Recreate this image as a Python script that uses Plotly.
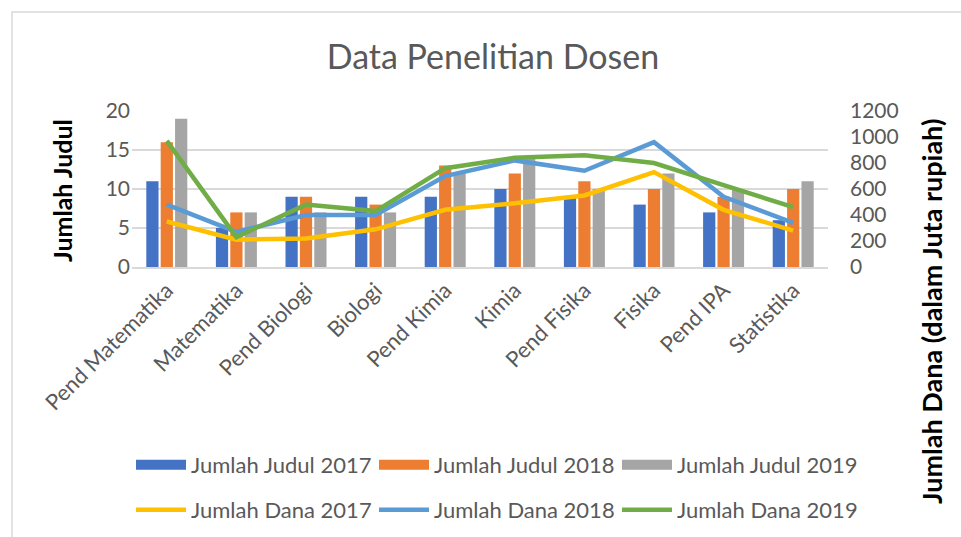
import plotly.graph_objects as go

# Study programmes (categories)
categories = ["Pend Matematika", "Matematika", "Pend Biologi", "Biologi", "Pend Kimia",
              "Kimia", "Pend Fisika", "Fisika", "Pend IPA", "Statistika"]

# Number of research titles per year
judul_2017 = [11, 5, 9, 9, 9, 10, 9, 8, 7, 6]
judul_2018 = [16, 7, 9, 8, 13, 12, 11, 10, 9, 10]
judul_2019 = [19, 7, 7, 7, 12, 14, 10, 12, 10, 11]

# Research funding per year (million rupiah)
dana_2017 = [350, 210, 220, 290, 440, 490, 550, 730, 440, 280]
dana_2018 = [480, 270, 400, 400, 700, 820, 740, 960, 540, 340]
dana_2019 = [970, 230, 480, 430, 760, 840, 860, 800, 630, 460]

left_ticks = [0, 5, 10, 15, 20]
right_ticks = [0, 200, 400, 600, 800, 1000, 1200]

FONT = "Lato"
GREY_TEXT = "#595959"

# plot area in pixels
PX_L, PX_R, PX_T, PX_B = 132, 828, 111, 267
PW, PH = PX_R - PX_L, PX_B - PX_T


def px_x(x):
    return (x - PX_L) / PW


def px_y(y):
    return (PX_B - y) / PH


fig = go.Figure()

bar_series = [
    ("Jumlah Judul 2017", judul_2017, "#4472C4"),
    ("Jumlah Judul 2018", judul_2018, "#ED7D31"),
    ("Jumlah Judul 2019", judul_2019, "#A5A5A5"),
]
for name, vals, color in bar_series:
    fig.add_trace(go.Bar(x=categories, y=vals, name=name, marker_color=color,
                         marker_line_width=0, legendgroup=name, showlegend=False))
    # wide rectangular swatch for the legend entry
    fig.add_trace(go.Scatter(x=[None], y=[None], name=name, mode="lines",
                             line=dict(color=color, width=13), legendgroup=name,
                             legend="legend", hoverinfo="skip"))

line_series = [
    ("Jumlah Dana 2017", dana_2017, "#FFC000"),
    ("Jumlah Dana 2018", dana_2018, "#5B9BD5"),
    ("Jumlah Dana 2019", dana_2019, "#70AD47"),
]
for name, vals, color in line_series:
    fig.add_trace(go.Scatter(x=categories, y=vals, name=name, mode="lines",
                             line=dict(color=color, width=4.5), yaxis="y2",
                             legend="legend2"))

legend_common = dict(
    orientation="h", x=px_x(131), xanchor="left", yanchor="middle",
    font=dict(family=FONT, size=22, color=GREY_TEXT),
    entrywidth=178, entrywidthmode="pixels", bgcolor="rgba(0,0,0,0)",
    itemwidth=50, tracegroupgap=0,
)

fig.update_layout(
    width=961, height=537,
    margin=dict(l=PX_L, r=961 - PX_R, t=PX_T, b=537 - PX_B, autoexpand=False),
    paper_bgcolor="white", plot_bgcolor="white",
    barmode="group", bargap=0.38, bargroupgap=0.15,
    title=dict(text="Data Penelitian Dosen", x=0.513, xanchor="center",
               y=1 - 57 / 537, yanchor="middle",
               font=dict(family=FONT, size=34, color=GREY_TEXT)),
    xaxis=dict(tickangle=-45, tickfont=dict(family=FONT, size=22, color=GREY_TEXT),
               showline=True, linecolor="#d9d9d9", linewidth=1.5,
               ticks="", showgrid=False, automargin=False),
    yaxis=dict(range=[0, 20], tickvals=left_ticks,
               tickfont=dict(family=FONT, size=21, color=GREY_TEXT),
               gridcolor="#d9d9d9", gridwidth=1.5, zeroline=False,
               showline=False, ticklabelstandoff=1, automargin=False),
    yaxis2=dict(range=[0, 1200], tickvals=right_ticks, overlaying="y", side="right",
                tickfont=dict(family=FONT, size=21, color=GREY_TEXT),
                showgrid=False, zeroline=False, showline=False,
                ticklabelstandoff=21, automargin=False),
    legend=dict(y=px_y(465), **legend_common),
    legend2=dict(y=px_y(510), **legend_common),
    showlegend=True,
)

# Axis titles
fig.add_annotation(text="<b>Jumlah Judul</b>", textangle=-90, xref="paper", yref="paper",
                   x=px_x(62), y=px_y(191), xanchor="center",
                   yanchor="middle", showarrow=False,
                   font=dict(family=FONT, size=25, color="black"))
fig.add_annotation(text="<b>Jumlah Dana (dalam Juta rupiah)</b>", textangle=-90,
                   xref="paper", yref="paper",
                   x=px_x(931), y=px_y(312), xanchor="center",
                   yanchor="middle", showarrow=False,
                   font=dict(family=FONT, size=27, color="black"))

# Chart frame
fig.add_shape(type="rect", xref="paper", yref="paper",
              x0=px_x(12), x1=px_x(975), y0=px_y(550), y1=px_y(12),
              line=dict(color="#d9d9d9", width=1.5), fillcolor="rgba(0,0,0,0)", layer="below")

fig.write_html("out.html")
